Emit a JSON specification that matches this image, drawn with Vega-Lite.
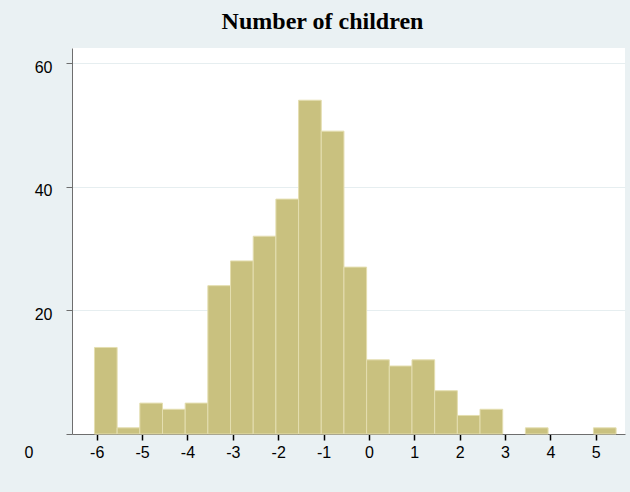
{
  "$schema": "https://vega.github.io/schema/vega-lite/v6.json",
  "width": 553,
  "height": 386,
  "autosize": {"type": "none"},
  "padding": {"left": 72, "top": 48, "right": 5, "bottom": 58},
  "background": "#eaf1f3",
  "title": {
    "text": "Number of children",
    "font": "Liberation Serif",
    "fontSize": 24,
    "fontWeight": "bold",
    "color": "#000000",
    "anchor": "middle",
    "frame": "group",
    "baseline": "alphabetic",
    "offset": -5,
    "dx": -26
  },
  "config": {
    "view": {"fill": "#ffffff", "stroke": null},
    "axis": {
      "labelFont": "Liberation Sans",
      "labelFontSize": 16,
      "labelColor": "#000000",
      "titleFont": "Liberation Sans"
    }
  },
  "data": {
    "values": [
      {"bin_start": -6.05, "bin_end": -5.55, "count": 14},
      {"bin_start": -5.55, "bin_end": -5.05, "count": 1},
      {"bin_start": -5.05, "bin_end": -4.55, "count": 5},
      {"bin_start": -4.55, "bin_end": -4.05, "count": 4},
      {"bin_start": -4.05, "bin_end": -3.55, "count": 5},
      {"bin_start": -3.55, "bin_end": -3.05, "count": 24},
      {"bin_start": -3.05, "bin_end": -2.55, "count": 28},
      {"bin_start": -2.55, "bin_end": -2.05, "count": 32},
      {"bin_start": -2.05, "bin_end": -1.55, "count": 38},
      {"bin_start": -1.55, "bin_end": -1.05, "count": 54},
      {"bin_start": -1.05, "bin_end": -0.55, "count": 49},
      {"bin_start": -0.55, "bin_end": -0.05, "count": 27},
      {"bin_start": -0.05, "bin_end": 0.45, "count": 12},
      {"bin_start": 0.45, "bin_end": 0.95, "count": 11},
      {"bin_start": 0.95, "bin_end": 1.45, "count": 12},
      {"bin_start": 1.45, "bin_end": 1.95, "count": 7},
      {"bin_start": 1.95, "bin_end": 2.45, "count": 3},
      {"bin_start": 2.45, "bin_end": 2.95, "count": 4},
      {"bin_start": 3.45, "bin_end": 3.95, "count": 1},
      {"bin_start": 4.95, "bin_end": 5.45, "count": 1}
    ]
  },
  "mark": {"type": "rect", "fill": "#c9c17f", "stroke": "#e4deb0", "strokeWidth": 1},
  "encoding": {
    "x": {
      "field": "bin_start",
      "type": "quantitative",
      "scale": {"domain": [-6.545, 5.646], "nice": false, "zero": false},
      "axis": {
        "title": null,
        "values": [-6, -5, -4, -3, -2, -1, 0, 1, 2, 3, 4, 5],
        "labelExpr": "datum.value < 0 ? '-' + abs(datum.value) : '' + datum.value",
        "grid": false,
        "domainColor": "#6e6e6e",
        "domainWidth": 1,
        "tickColor": "#000000",
        "tickSize": 6,
        "tickWidth": 1.5,
        "labelPadding": 4,
        "labelBaseline": "top"
      }
    },
    "x2": {"field": "bin_end"},
    "y": {
      "field": "count",
      "type": "quantitative",
      "scale": {"domain": [0, 62.45], "nice": false},
      "axis": {
        "title": null,
        "values": [0, 20, 40, 60],
        "grid": true,
        "gridColor": "#e6eef0",
        "gridWidth": 1,
        "domainColor": "#6e6e6e",
        "domainWidth": 1,
        "tickColor": "#6e6e6e",
        "tickSize": 6,
        "labelBaseline": "middle",
        "labelOffset": {"condition": {"test": "datum.value === 0", "value": 18}, "value": 4},
        "labelPadding": {"condition": {"test": "datum.value === 0", "value": 33}, "value": 14}
      }
    },
    "y2": {"datum": 0}
  }
}
